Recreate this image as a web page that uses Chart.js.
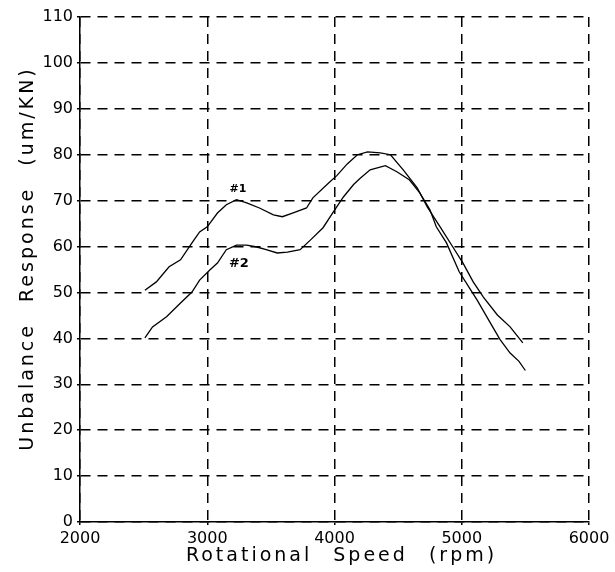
<!DOCTYPE html>
<html>
<head>
<meta charset="utf-8">
<title>Unbalance Response</title>
<script src="https://cdn.jsdelivr.net/npm/chart.js@4/dist/chart.umd.min.js"></script>
<style>
    body { margin: 0; background: #fff; }
    #wrap { width: 615px; height: 572px; }
</style>
</head>
<body>
<div id="wrap"><canvas id="responseChart"></canvas></div>
<script>
// Curve #1
const speed1 = [2510, 2600, 2700, 2790, 2880, 2940, 3000, 3080, 3150, 3230, 3310, 3410, 3520, 3590, 3670, 3780, 3830, 3960, 4020, 4100, 4180, 4260, 4360, 4440, 4540, 4650, 4730, 4830, 4930, 5010, 5090, 5170, 5280, 5380, 5480];
const response1 = [50.5, 52.3, 55.6, 57.1, 60.8, 63.2, 64.3, 67.3, 69.1, 70.2, 69.5, 68.4, 66.9, 66.5, 67.3, 68.4, 70.6, 74.0, 75.5, 78.0, 80.0, 80.6, 80.4, 80.0, 76.7, 72.8, 68.6, 64.3, 59.9, 56.4, 52.3, 49.0, 45.1, 42.5, 39.0];

// Curve #2
const speed2 = [2510, 2570, 2680, 2790, 2880, 2940, 3020, 3080, 3150, 3230, 3310, 3390, 3470, 3550, 3630, 3730, 3810, 3910, 3990, 4070, 4150, 4200, 4280, 4400, 4490, 4590, 4670, 4750, 4800, 4880, 4980, 5060, 5120, 5220, 5300, 5380, 5450, 5500];
const response2 = [40.1, 42.5, 44.7, 47.7, 50.1, 52.7, 54.9, 56.4, 59.3, 60.3, 60.3, 59.9, 59.3, 58.6, 58.8, 59.3, 61.4, 64.1, 67.5, 70.8, 73.5, 74.8, 76.7, 77.6, 76.3, 74.5, 71.7, 68.0, 64.3, 60.8, 54.5, 51.0, 48.4, 43.6, 39.8, 36.8, 35.0, 33.0];

// Axis ticks and curve tags
const xTicks = [2000, 3000, 4000, 5000, 6000];
const yTicks = [0, 10, 20, 30, 40, 50, 60, 70, 80, 90, 100, 110];
const curveTags = [
    { text: '#1', x: 3241, y: 72.5, size: 11 },
    { text: '#2', x: 3249, y: 56.2, size: 13 }
];
const xTitle = 'Rotational Speed (rpm)';
const yTitle = 'Unbalance Response (um/KN)';

const FONT = 'DejaVu Sans, sans-serif';

function toPoints(xs, ys) {
    return xs.map((x, i) => ({ x: x, y: ys[i] }));
}

// Writes the #1 / #2 tags next to the curves
const tagPlugin = {
    id: 'curveTags',
    afterDatasetsDraw(chart) {
        const ctx = chart.ctx;
        const xs = chart.scales.x;
        const ys = chart.scales.y;
        ctx.save();
        ctx.fillStyle = '#000';
        ctx.textAlign = 'center';
        ctx.textBaseline = 'middle';
        curveTags.forEach(tag => {
            ctx.font = `bold ${tag.size}px ${FONT}`;
            ctx.fillText(tag.text, xs.getPixelForValue(tag.x), ys.getPixelForValue(tag.y));
        });
        ctx.restore();
    }
};

// Axis titles, drawn by hand so the wide lettering of the plot can be kept
const titlePlugin = {
    id: 'axisTitles',
    afterDraw(chart) {
        const ctx = chart.ctx;
        const area = chart.chartArea;
        ctx.save();
        ctx.fillStyle = '#000';
        ctx.font = `19px ${FONT}`;
        ctx.letterSpacing = '3px';
        ctx.wordSpacing = '12px';
        ctx.textAlign = 'center';
        ctx.textBaseline = 'middle';
        ctx.fillText(xTitle, (area.left + area.right) / 2 + 7, area.bottom + 34);
        ctx.translate(area.left - 52, (area.top + area.bottom) / 2 - 11);
        ctx.rotate(-Math.PI / 2);
        ctx.fillText(yTitle, 0, 0);
        ctx.restore();
    }
};

const ctx = document.getElementById('responseChart').getContext('2d');
new Chart(ctx, {
    type: 'line',
    data: {
        datasets: [
            {
                label: '#1',
                data: toPoints(speed1, response1),
                borderColor: '#000',
                borderWidth: 1.3,
                pointRadius: 0,
                tension: 0
            },
            {
                label: '#2',
                data: toPoints(speed2, response2),
                borderColor: '#000',
                borderWidth: 1.3,
                pointRadius: 0,
                tension: 0
            }
        ]
    },
    options: {
        responsive: true,
        maintainAspectRatio: false,
        animation: false,
        layout: { padding: { top: 17, right: 26, left: 0, bottom: 0 } },
        plugins: {
            legend: { display: false },
            tooltip: { enabled: false }
        },
        scales: {
            x: {
                type: 'linear',
                min: 2000,
                max: 6000,
                afterBuildTicks: axis => { axis.ticks = xTicks.map(v => ({ value: v })); },
                afterFit: axis => { axis.height = 50; },
                ticks: {
                    color: '#000',
                    font: { family: FONT, size: 16 },
                    padding: 4,
                    maxRotation: 0,
                    callback: v => String(v)
                },
                grid: { color: '#000', lineWidth: 1.5, tickLength: 3 },
                border: { color: '#000', width: 1.5, dash: [10, 7] }
            },
            y: {
                min: 0,
                max: 110,
                afterBuildTicks: axis => { axis.ticks = yTicks.map(v => ({ value: v })); },
                afterFit: axis => { axis.width = 80; },
                ticks: {
                    color: '#000',
                    font: { family: FONT, size: 16 },
                    padding: 4,
                    callback: v => String(v)
                },
                grid: { color: '#000', lineWidth: 1.5, tickLength: 3 },
                border: { color: '#000', width: 1.5, dash: [10, 7] }
            }
        }
    },
    plugins: [tagPlugin, titlePlugin]
});
</script>
</body>
</html>
